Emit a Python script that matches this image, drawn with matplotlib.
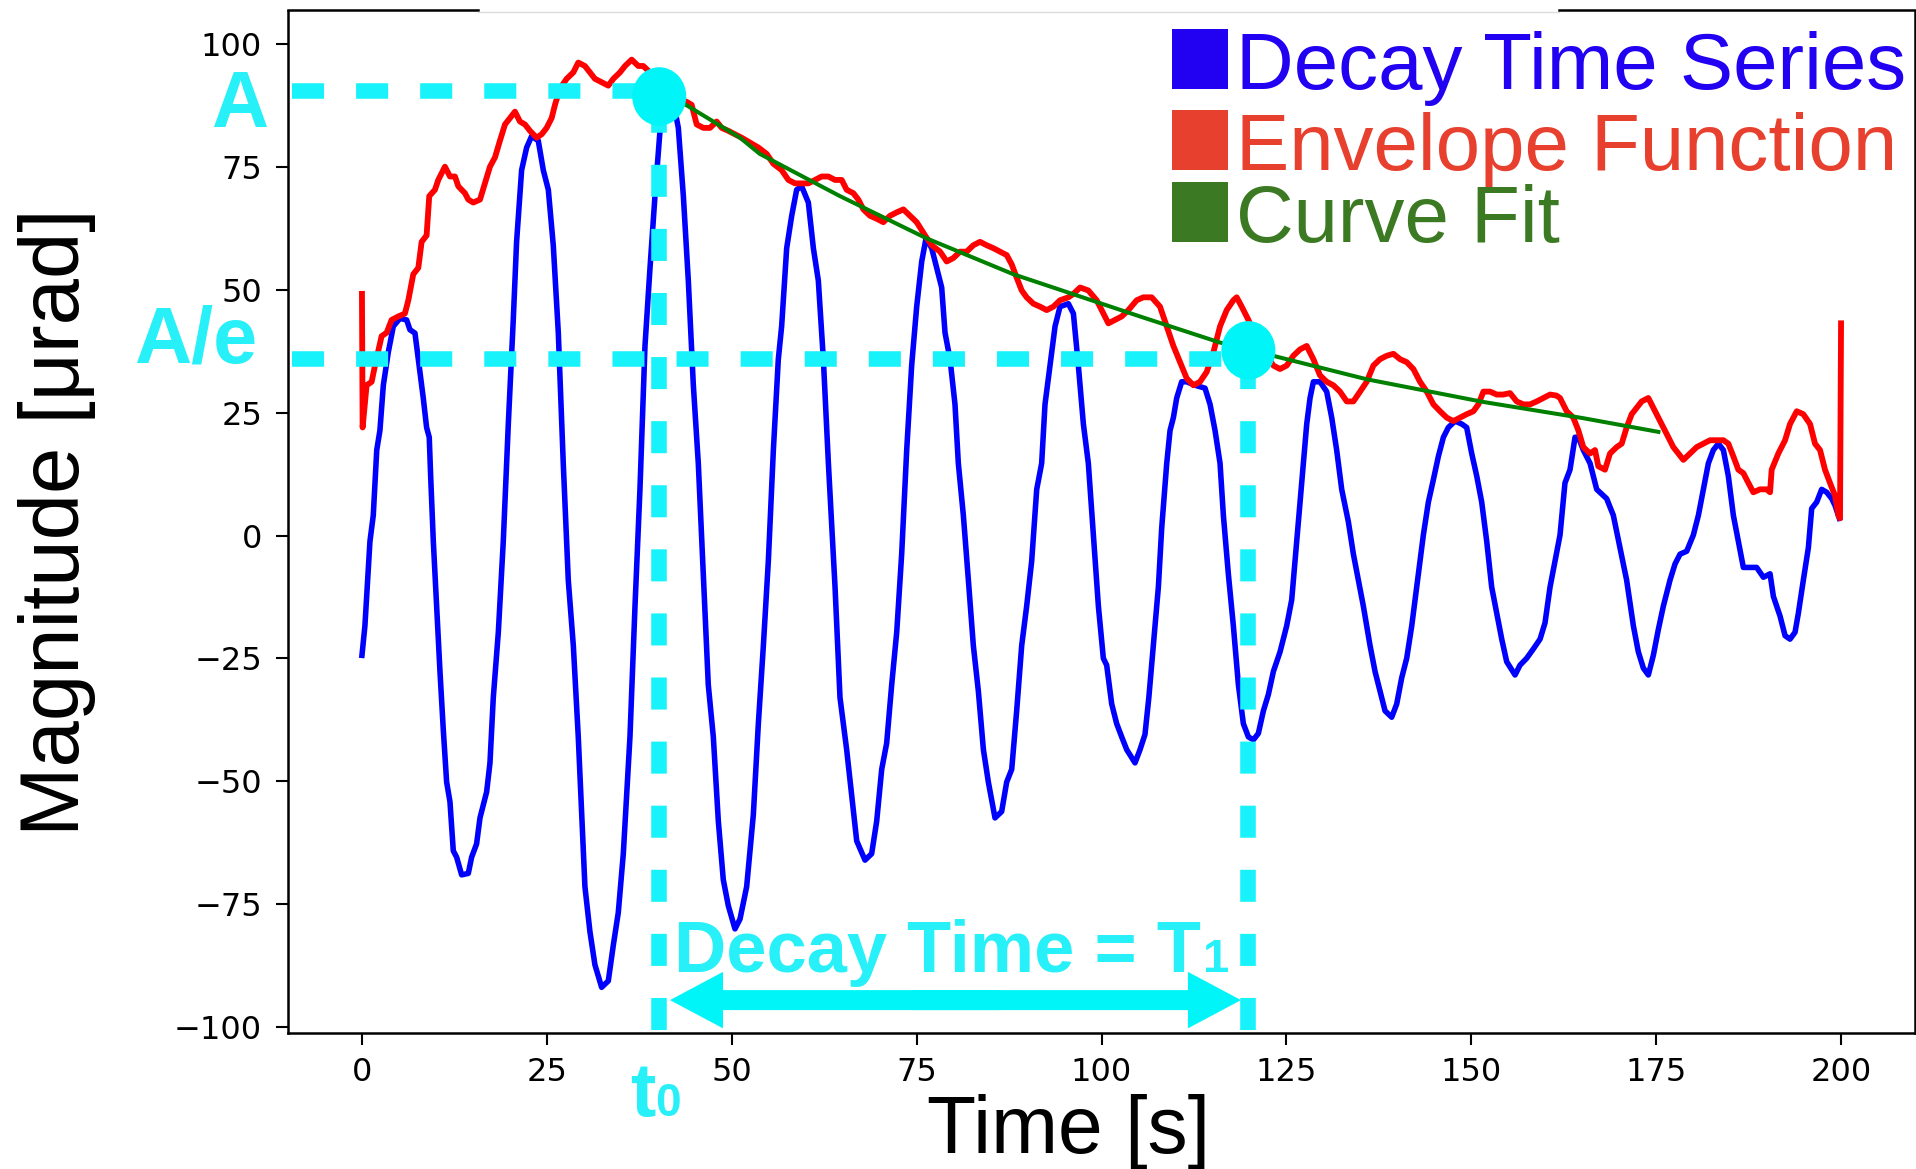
import matplotlib
matplotlib.use("Agg")
import matplotlib.pyplot as plt
from matplotlib.lines import Line2D
from matplotlib.patches import Ellipse, Rectangle

# ---------------- data ----------------
decay_t = [0.00, 0.40, 1.08, 1.53, 2.00, 2.43, 2.89, 3.56, 4.24, 5.14, 6.04, 6.49, 7.17, 7.62, 8.29,
           8.74, 9.10, 9.29, 9.65, 10.10, 10.55, 11.00, 11.45, 11.90, 12.35, 12.80, 13.48, 14.38, 14.83,
           15.50, 15.96, 16.86, 17.31, 17.76, 18.44, 19.11, 19.79, 20.46, 20.91, 21.59, 22.27, 22.94,
           23.84, 24.52, 25.20, 25.87, 26.55, 27.22, 27.90, 28.58, 29.25, 30.15, 30.83, 31.50, 32.41,
           33.31, 33.99, 34.66, 35.34, 36.24, 36.92, 37.59, 38.27, 38.95, 39.62, 40.30, 40.97, 42.10,
           42.78, 43.46, 44.13, 44.81, 45.48, 46.16, 46.83, 47.51, 48.19, 48.86, 49.54, 50.44, 51.12,
           52.02, 52.92, 53.60, 54.28, 54.95, 55.63, 56.30, 56.75, 57.43, 58.11, 58.78, 59.46, 60.36,
           61.04, 61.71, 62.39, 63.07, 63.97, 64.64, 65.54, 66.22, 66.90, 68.02, 68.92, 69.60, 70.28,
           70.95, 71.63, 72.31, 72.98, 73.66, 74.33, 75.01, 75.69, 76.27, 77.04, 77.71, 78.39, 78.84,
           79.52, 80.19, 80.64, 81.32, 82.00, 82.67, 83.35, 84.03, 84.70, 85.60, 86.50, 87.18, 87.86,
           88.53, 89.21, 89.88, 90.56, 91.24, 91.91, 92.36, 93.04, 93.72, 94.39, 95.52, 96.20, 96.87,
           97.55, 98.22, 98.90, 99.58, 100.25, 100.70, 101.38, 102.05, 102.73, 103.41, 104.53, 105.21,
           105.88, 106.40, 107.01, 107.69, 108.14, 108.82, 109.27, 109.72, 110.17, 110.84, 111.52,
           112.65, 114.00, 114.68, 115.35, 116.03, 116.48, 117.15, 117.83, 118.51, 119.18, 119.86,
           120.54, 121.21, 121.89, 122.56, 123.24, 124.14, 125.04, 125.72, 126.17, 126.85, 127.30,
           127.75, 128.20, 128.65, 129.55, 130.45, 131.13, 131.80, 132.48, 133.38, 134.06, 134.73,
           135.41, 136.31, 136.99, 137.66, 138.34, 139.24, 139.92, 140.59, 141.27, 141.95, 142.62,
           143.52, 144.20, 144.88, 145.55, 146.23, 146.90, 147.81, 148.71, 149.38, 150.06, 150.74,
           151.41, 152.09, 152.76, 153.44, 154.12, 154.79, 155.92, 156.59, 157.49, 158.39, 159.30,
           159.97, 160.65, 161.32, 162.00, 162.67, 163.35, 164.03, 164.48, 165.15, 166.06, 166.96,
           168.31, 169.21, 170.11, 171.01, 171.92, 172.59, 173.27, 173.94, 174.62, 175.30, 175.97,
           176.87, 177.55, 178.23, 179.13, 180.03, 180.71, 181.38, 182.06, 182.73, 183.41, 184.09,
           184.76, 185.44, 186.11, 186.79, 187.69, 188.59, 189.50, 190.40, 190.85, 191.75, 192.43,
           193.10, 193.78, 194.23, 194.90, 195.58, 196.03, 196.71, 197.38, 198.06, 198.74, 199.19,
           199.77]
decay_y = [-24.4, -18.4, -1.2, 4.1, 17.4, 21.4, 30.6, 37.3, 42.6, 44.2, 43.9, 41.9, 41.2, 35.9, 28.0,
           22.0, 20.0, 12.1, -1.2, -14.4, -27.7, -39.6, -50.2, -54.2, -64.2, -65.5, -69.1, -68.8, -65.5,
           -62.8, -57.5, -52.2, -46.3, -33.0, -19.7, -1.2, 22.7, 43.9, 59.8, 74.4, 79.0, 81.3,
           80.4, 74.4, 70.4, 59.1, 41.3, 14.7, -9.1, -22.4, -41.0, -71.5, -80.7, -87.4, -92.0,
           -90.7, -83.4, -76.8, -64.8, -41.0, -14.4, 9.4, 38.6, 54.5, 69.1, 82.4, 87.7, 88.3,
           83.0, 69.1, 51.9, 30.6, 14.7, -7.8, -30.4, -41.0, -58.2, -70.1, -75.4, -80.1, -78.1,
           -71.5, -56.9, -38.3, -22.4, -5.2, 17.4, 35.9, 42.6, 58.5, 65.1, 70.4, 71.1, 67.8,
           58.5, 51.9, 35.9, 14.7, -10.5, -33.0, -43.6, -52.9, -62.2, -66.1, -64.8, -58.2, -47.6,
           -42.3, -30.4, -19.7, -3.8, 17.4, 34.6, 46.6, 55.8, 60.5, 58.5, 54.5, 50.5, 41.3,
           35.9, 26.7, 14.7, 4.1, -9.1, -22.4, -31.7, -43.6, -50.2, -57.5, -56.2, -50.2, -47.6,
           -35.7, -22.4, -14.4, -5.2, 9.4, 14.7, 26.7, 34.6, 42.6, 46.6, 47.2, 45.2, 34.6,
           22.7, 14.7, 0.1, -14.4, -25.0, -26.4, -34.3, -38.3, -41.0, -43.6, -46.3, -43.6,
           -40.5, -33.0, -22.4, -10.5, 1.5, 14.7, 21.4, 24.0, 28.0, 31.3, 31.3,
           30.6, 30.0, 26.7, 21.4, 14.7, 4.1, -7.8, -18.4, -30.4, -38.3, -41.0,
           -41.6, -40.3, -35.7, -32.4, -27.7, -23.7, -18.4, -13.1, -5.2, 6.8, 14.7,
           22.7, 28.0, 31.3, 31.3, 29.3, 24.0, 17.4, 9.4, 2.8, -3.8, -9.1,
           -14.4, -22.4, -27.7, -31.7, -35.7, -37.0, -34.3, -29.0, -25.0, -18.4, -10.5,
           0.1, 6.8, 11.4, 16.1, 20.0, 22.0, 23.3, 22.7, 22.0, 16.7, 12.1,
           6.8, -1.2, -10.5, -15.8, -21.1, -25.7, -28.4, -26.4, -25.0, -23.1, -21.1,
           -17.8, -10.5, -5.2, 0.1, 10.7, 13.4, 20.0, 20.0, 17.4, 14.7, 9.4,
           7.5, 4.1, -2.5, -9.1, -18.4, -23.7, -27.0, -28.4, -24.4, -19.1, -14.4,
           -9.1, -5.8, -3.8, -3.2, 0.1, 4.1, 9.4, 14.7, 17.4, 18.7, 17.4,
           12.1, 4.1, -1.2, -6.5, -6.5, -6.5, -8.5, -7.8, -12.4, -16.4, -20.4,
           -21.1, -19.7, -15.8, -9.1, -2.5, 5.5, 6.8, 9.4, 8.8, 7.5, 6.1,
           3.5]

envelope_t = [0.00, 0.09, 0.63, 1.31, 1.76, 2.66, 3.34, 4.01, 4.91, 5.81, 6.27, 6.94, 7.62, 8.07, 8.74,
              9.10, 9.87, 10.32, 11.22, 11.90, 12.58, 13.03, 13.93, 14.38, 15.05, 15.96, 16.63, 17.31,
              17.99, 18.66, 19.34, 20.01, 20.69, 21.36, 22.04, 22.72, 23.62, 24.30, 24.97, 25.65, 26.10,
              26.77, 27.68, 28.58, 29.25, 30.15, 30.83, 31.50, 32.41, 33.31, 33.99, 34.89, 35.57, 36.47,
              37.37, 38.04, 38.95, 40.30, 42.00, 43.90, 44.58, 45.26, 46.16, 47.06, 47.96, 48.64, 49.54,
              50.44, 51.34, 52.47, 53.60, 54.73, 55.63, 56.75, 57.66, 58.56, 59.46, 60.36, 61.26, 62.16,
              63.07, 63.97, 64.87, 65.54, 66.45, 67.12, 67.80, 68.70, 69.60, 70.50, 71.40, 72.31, 73.21,
              74.11, 75.01, 76.14, 77.04, 78.17, 79.07, 79.97, 80.87, 81.77, 82.67, 83.57, 84.48, 85.38,
              86.28, 87.18, 87.86, 88.53, 89.21, 89.88, 90.79, 91.69, 92.59, 93.49, 94.39, 95.52, 96.20,
              97.10, 98.22, 99.35, 100.25, 100.93, 101.83, 102.73, 103.63, 104.76, 105.66, 106.78,
              107.91, 108.82, 109.72, 110.62, 111.52, 112.42, 113.32, 114.22, 115.13, 116.03, 116.93,
              117.83, 118.28, 118.96, 119.86, 121.50, 123.24, 124.14, 125.04, 125.94, 126.85, 127.75,
              128.65, 129.55, 130.45, 131.35, 132.25, 133.16, 134.06, 134.96, 135.86, 136.76, 137.66,
              138.57, 139.47, 140.37, 141.27, 142.17, 143.07, 143.98, 144.88, 145.78, 146.68, 147.58,
              148.48, 149.38, 150.29, 150.96, 151.64, 152.54, 153.44, 154.34, 155.24, 156.14, 157.05,
              157.95, 158.85, 159.75, 160.65, 161.50, 162.00, 162.90, 163.80, 164.48, 165.15, 166.06,
              166.73, 167.18, 168.08, 168.76, 169.66, 170.34, 171.01, 171.69, 172.37, 173.04, 173.94,
              174.62, 175.30, 175.97, 176.65, 177.32, 178.00, 178.68, 179.58, 180.48, 181.38, 182.28,
              183.18, 184.09, 184.76, 185.44, 186.11, 186.79, 187.47, 188.14, 189.04, 189.95, 190.40,
              190.62, 191.52, 192.43, 193.10, 194.01, 194.90, 195.81, 196.48, 197.16, 197.83, 198.51,
              199.19, 199.64, 199.86, 200.00]
envelope_y = [49.2, 22.0, 30.6, 31.3, 34.6, 40.6, 41.3, 43.9, 44.6, 45.2, 47.9, 53.2, 54.5, 59.8, 61.1,
              69.1, 70.4, 72.4, 75.1, 73.1, 73.1, 71.1, 69.7, 68.4, 67.8, 68.4, 71.7, 75.1,
              77.0, 80.4, 83.7, 85.0, 86.3, 84.3, 83.7, 82.4, 81.0, 81.7, 83.0, 85.0, 87.7,
              91.0, 93.0, 94.3, 96.3, 95.6, 94.3, 93.0, 92.3, 91.6, 93.0, 94.3, 95.6, 96.9,
              95.6, 95.6, 94.3, 91.6, 89.5, 88.3, 87.7, 83.7, 83.0, 83.0, 84.3, 83.0, 82.4,
              81.7, 81.0, 80.0, 79.0, 77.7, 75.7, 74.4, 72.4, 71.7, 71.7, 71.7, 72.4, 73.1,
              73.1, 72.4, 72.4, 70.4, 69.7, 68.4, 66.4, 65.1, 64.5, 63.8, 65.1, 65.8, 66.4,
              65.1, 63.8, 61.1, 59.1, 57.8, 55.8, 56.5, 57.8, 57.8, 59.1, 59.8, 59.1, 58.5,
              57.8, 57.1, 55.2, 52.5, 49.9, 48.5, 47.2, 46.6, 45.9, 46.6, 47.9, 48.5, 49.2,
              50.5, 49.9, 47.9, 45.2, 43.2, 43.9, 44.6, 45.9, 47.9, 48.5, 48.5,
              46.6, 42.6, 38.6, 35.3, 32.0, 30.6, 31.3, 33.3, 37.3, 42.6, 45.9,
              47.9, 48.5, 46.6, 43.9, 38.5, 34.6, 33.9, 34.6, 36.6, 37.9, 38.6,
              35.9, 32.6, 31.3, 30.6, 29.3, 27.3, 27.3, 29.3, 31.3, 34.6, 35.9,
              36.6, 37.0, 35.9, 35.3, 33.9, 31.3, 29.3, 26.7, 25.3, 24.0, 23.3,
              24.0, 24.7, 25.3, 26.7, 29.3, 29.3, 28.7, 28.7, 29.0, 27.3, 26.7,
              26.7, 27.3, 28.0, 28.7, 28.5, 28.0, 25.3, 24.0, 21.4, 18.0, 16.7,
              17.4, 14.1, 13.4, 16.7, 18.0, 18.7, 22.0, 24.7, 26.0, 27.3, 28.0,
              26.0, 24.0, 22.0, 20.0, 18.0, 16.7, 15.4, 16.7, 18.0, 18.7, 19.4,
              19.4, 19.4, 18.7, 16.1, 13.4, 12.7, 10.7, 8.8, 9.4, 9.4, 8.8,
              13.4, 16.7, 19.4, 22.7, 25.3, 24.7, 22.7, 18.7, 17.4, 13.4, 10.7,
              8.1, 4.1, 3.5, 43.2]

fit_t = [42.0, 43.9, 51.12, 53.8, 64.64, 76.36, 88.08, 105.21, 116.0, 123.46, 135.9, 151.6,
         165.1, 175.3]
fit_y = [88.8, 87.6, 81.0, 77.7, 69.1, 60.5, 53.2, 44.6, 39.3, 36.5, 31.8, 27.2,
         23.9, 21.1]

# decay-time markers
amp_level = 90.5        # A
amp_e_level = 36.0      # A/e
t0_time, t0_amp = 40.2, 89.4
t1_time, t1_amp = 119.86, 37.7
arrow_left, arrow_right, arrow_level = 41.65, 118.86, -94.6

x_ticks = [0, 25, 50, 75, 100, 125, 150, 175, 200]
y_ticks = [-100, -75, -50, -25, 0, 25, 50, 75, 100]

legend_labels = ["Decay Time Series", "Envelope Function", "Curve Fit"]
legend_colors = ["#2200F2", "#E8402F", "#3B7A23"]

# ---------------- figure ----------------
W, H, DPI = 1916, 1169, 100
fig = plt.figure(figsize=(W / DPI, H / DPI), dpi=DPI)
fig.patch.set_facecolor("white")


def fx(px):
    return px / W


def fy(py):
    return 1 - py / H


ax_l, ax_r, ax_t, ax_b = 288, 1915, 11, 1033
ax = fig.add_axes([fx(ax_l), fy(ax_b), (ax_r - ax_l) / W, (ax_b - ax_t) / H])

ax.plot(decay_t, decay_y, color="#0000FF", lw=4.0, zorder=2, solid_joinstyle="round")
ax.plot(envelope_t, envelope_y, color="#FF0000", lw=4.2, zorder=2.1, solid_joinstyle="round")
ax.plot(fit_t, fit_y, color="#008000", lw=2.9, zorder=2.2)

ax.set_xlim(-10, 210)
ax.set_ylim(-101.3, 106.8)
ax.set_xticks(x_ticks)
ax.set_yticks(y_ticks)
ax.tick_params(axis="both", labelsize=23, length=8.6, width=1.5, direction="out")
ax.tick_params(axis="x", pad=8.5)
ax.tick_params(axis="y", pad=10)
for s in ["left", "right", "bottom"]:
    ax.spines[s].set_linewidth(1.8)
ax.spines["top"].set_visible(False)

label_font = ["Liberation Sans", "DejaVu Sans"]
ax.set_xlabel("Time [s]", fontsize=58, family=label_font)
ax.xaxis.set_label_coords((1069 - ax_l) / (ax_r - ax_l), -(1094 - ax_b) / (ax_b - ax_t))
ax.xaxis.label.set_va("top")
ax.set_ylabel("Magnitude [μrad]", fontsize=60, family=label_font)
ax.yaxis.set_label_coords((96 - ax_l) / (ax_r - ax_l), (ax_b - 522) / (ax_b - ax_t))

# top frame line
fig.add_artist(Line2D([fx(288), fx(478)], [fy(10), fy(10)], color="black", lw=1.8))
fig.add_artist(Line2D([fx(478), fx(1559)], [fy(12.3), fy(12.3)], color="#DCDCDC", lw=1.0))
fig.add_artist(Line2D([fx(1559), fx(1915)], [fy(10), fy(10)], color="black", lw=1.8))

# ---------------- decay-time annotation ----------------
cyan_line = "#18F2FA"
cyan_fill = "#00F5F8"
cyan_text = "#28F0F8"
dash_kw = dict(color=cyan_line, lw=11.2, dashes=(2.06, 2.06), solid_capstyle="butt",
               dash_capstyle="butt", zorder=4)
ax.plot([-9.5, t0_time], [amp_level, amp_level], **dash_kw)
ax.plot([-9.5, t1_time], [amp_e_level, amp_e_level], **dash_kw)
ax.plot([t0_time, t0_time], [-100.6, amp_level], **dash_kw)
ax.plot([t1_time, t1_time], [-100.6, amp_e_level], **dash_kw)

for cx, cy in [(t0_time, t0_amp), (t1_time, t1_amp)]:
    ax.add_patch(Ellipse((cx, cy), 7.3, 11.9, facecolor=cyan_fill, edgecolor="none", zorder=5))

# double-headed arrow: two halves that overlap in the middle
mid = (arrow_left + arrow_right) / 2
for tip, start in ((arrow_left, mid + 6), (arrow_right, mid - 6)):
    ax.arrow(start, arrow_level, tip - start, 0, width=4.07, head_width=11.5, head_length=7.17,
             length_includes_head=True, facecolor=cyan_fill, edgecolor="none", zorder=5)

bold_kw = dict(family=["Liberation Sans", "DejaVu Sans"], weight="bold", color=cyan_text)
fig.text(fx(239.3), fy(127), "A", ha="center", va="baseline", fontsize=57, **bold_kw)
fig.text(fx(195.5), fy(362), "A/e", ha="center", va="baseline", fontsize=57, **bold_kw)

renderer = fig.canvas.get_renderer()


def text_with_sub(x_px, base_px, main, sub, size, subsize, gap_px=0):
    t = fig.text(fx(x_px), fy(base_px), main, ha="left", va="baseline", fontsize=size, **bold_kw)
    bb = t.get_window_extent(renderer)
    fig.text((bb.x1 + gap_px) / W, fy(base_px), sub, ha="left", va="baseline",
             fontsize=subsize, **bold_kw)


text_with_sub(630, 1116, "t", "0", 55, 33)
text_with_sub(674, 971.7, "Decay Time = T", "1", 52, 34, gap_px=2)

# ---------------- legend ----------------
rows_top = [29, 110, 182]
for label, color, top in zip(legend_labels, legend_colors, rows_top):
    fig.add_artist(Rectangle((fx(1172), fy(top + 60)), 56 / W, 60 / H,
                             transform=fig.transFigure, facecolor=color, edgecolor="none"))
    fig.text(fx(1236), fy(top + 60), label, ha="left", va="baseline", fontsize=57.5,
             family=["Liberation Sans", "DejaVu Sans"], color=color)

fig.savefig("out.png", dpi=DPI)
